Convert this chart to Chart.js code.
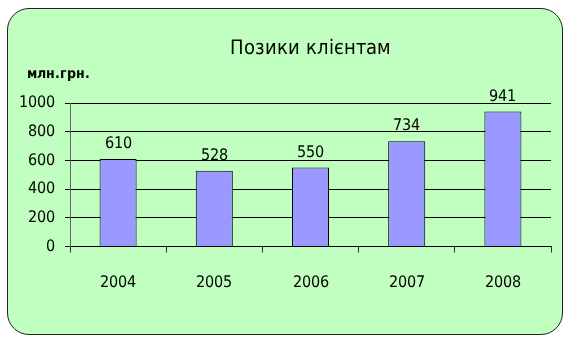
<!DOCTYPE html>
<html>
<head>
<meta charset="utf-8">
<script src="https://cdn.jsdelivr.net/npm/chart.js@4"></script>
<style>
  @font-face { font-family: "NarrowLocal"; src: local("Liberation Sans Narrow"), local("LiberationSansNarrow-Regular"), local("DejaVu Sans Condensed"), local("DejaVuSansCondensed"); }
  @font-face { font-family: "NarrowLocal"; font-weight: bold; src: local("Liberation Sans Narrow Bold"), local("LiberationSansNarrow-Bold"), local("DejaVu Sans Condensed Bold"), local("DejaVuSansCondensed-Bold"); }
  html, body { margin: 0; padding: 0; background: #fff; }
  #wrap { position: relative; width: 569px; height: 342px; }
  #panel {
    position: absolute; left: 7px; top: 8px; width: 554px; height: 325px;
    background: #c0ffc0; border: 1.5px solid #222; border-radius: 22px;
  }
  canvas { position: absolute; left: 0; top: 0; }
</style>
</head>
<body>
<div id="wrap">
  <div id="panel"></div>
  <canvas id="loansChart" width="569" height="342"></canvas>
</div>
<script>
// дані з графіка
const years = ["2004", "2005", "2006", "2007", "2008"];
const loans = [610, 528, 550, 734, 941];
const yTicks = [0, 200, 400, 600, 800, 1000];

const FONT = "NarrowLocal, 'Liberation Sans', sans-serif";

// підписи значень над стовпцями + одиниці виміру
const valueLabels = {
  id: "valueLabels",
  afterDatasetsDraw(chart) {
    const ctx = chart.ctx;
    const meta = chart.getDatasetMeta(0);
    ctx.save();
    ctx.font = "16px " + FONT;
    ctx.fillStyle = "#000";
    ctx.textAlign = "center";
    ctx.textBaseline = "middle";
    meta.data.forEach((bar, i) => {
      ctx.fillText(loans[i], bar.x, bar.y - 15);
    });
    // "млн.грн." над віссю Y
    ctx.font = "bold 14px " + FONT;
    ctx.textAlign = "left";
    ctx.fillText("млн.грн.", chart.chartArea.left - 43, chart.chartArea.top - 29);
    ctx.restore();
  },
};

function draw() {
  const ctx = document.getElementById("loansChart").getContext("2d");
  new Chart(ctx, {
    type: "bar",
    data: {
      labels: years,
      datasets: [
        {
          data: loans,
          backgroundColor: "#9999ff",
          borderColor: "#000",
          borderWidth: 1,
          barPercentage: 0.385,
          categoryPercentage: 1,
        },
      ],
    },
    options: {
      responsive: false,
      animation: false,
      devicePixelRatio: 1,
      layout: { padding: { top: 30, left: 14, right: 18, bottom: 0 } },
      plugins: {
        legend: { display: false },
        tooltip: { enabled: false },
        title: {
          display: true,
          fullSize: false, // центр над областю графіка
          text: "Позики клієнтам",
          color: "#000",
          font: { family: FONT, size: 20, weight: "normal" },
          padding: { top: 7, bottom: 42 },
        },
      },
      scales: {
        x: {
          grid: {
            offset: true,
            drawOnChartArea: false,
            drawTicks: true,
            tickLength: 6,
            color: "#333",
          },
          border: { color: "#000", width: 1 },
          ticks: { color: "#000", font: { family: FONT, size: 16 }, padding: 21 },
          afterFit(scale) { scale.height = 342 - 246.5; },
        },
        y: {
          min: 0,
          max: 1000,
          afterBuildTicks(scale) { scale.ticks = yTicks.map((v) => ({ value: v })); },
          grid: { color: "#000", tickLength: 5 },
          border: { color: "#666", width: 1 },
          ticks: {
            color: "#000",
            font: { family: FONT, size: 16 },
            padding: 10,
            callback: (v) => String(v),
          },
          afterFit(scale) { scale.width = 70 - 14; },
        },
      },
    },
    plugins: [valueLabels],
  });
}

Promise.all([
  document.fonts.load("16px NarrowLocal"),
  document.fonts.load("bold 14px NarrowLocal"),
]).then(draw, draw);
</script>
</body>
</html>
